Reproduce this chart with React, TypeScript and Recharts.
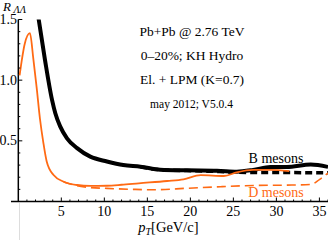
import { LineChart, Line, XAxis, YAxis, ReferenceLine } from 'recharts'

// values (pT in GeV/c, R_AA)
const bSolid = [
  { x: 2.0, y: 1.68 }, { x: 2.35, y: 1.51 }, { x: 3.1, y: 1.167 }, { x: 3.92, y: 0.837 },
  { x: 4.3, y: 0.727 }, { x: 4.88, y: 0.617 }, { x: 5.66, y: 0.52 }, { x: 6.83, y: 0.44 },
  { x: 8.37, y: 0.37 }, { x: 10.3, y: 0.33 }, { x: 12.2, y: 0.3 }, { x: 14.2, y: 0.287 },
  { x: 16.5, y: 0.262 }, { x: 19.6, y: 0.257 }, { x: 23.1, y: 0.254 }, { x: 25.4, y: 0.246 },
  { x: 27.3, y: 0.26 }, { x: 29.3, y: 0.285 }, { x: 31.2, y: 0.285 }, { x: 34.0, y: 0.305 },
  { x: 36.0, y: 0.285 },
]
const bDashed = [
  { x: 14.2, y: 0.287 }, { x: 16.5, y: 0.262 }, { x: 19.6, y: 0.255 }, { x: 22, y: 0.25 },
  { x: 25, y: 0.242 }, { x: 28, y: 0.238 }, { x: 32, y: 0.238 }, { x: 36, y: 0.236 },
]
const dSolid = [
  { x: 0.15, y: 1.04 }, { x: 0.75, y: 1.3 }, { x: 1.35, y: 1.387 }, { x: 1.74, y: 1.18 },
  { x: 2.13, y: 0.94 }, { x: 2.52, y: 0.68 }, { x: 2.9, y: 0.49 }, { x: 3.3, y: 0.33 },
  { x: 4.1, y: 0.218 }, { x: 5.27, y: 0.163 }, { x: 6.83, y: 0.136 }, { x: 8.37, y: 0.128 },
  { x: 10.3, y: 0.13 }, { x: 12.0, y: 0.138 }, { x: 14.0, y: 0.15 }, { x: 17.3, y: 0.169 },
  { x: 19.2, y: 0.183 }, { x: 21.2, y: 0.218 }, { x: 23.9, y: 0.21 }, { x: 25.4, y: 0.24 },
  { x: 27.3, y: 0.26 }, { x: 29.3, y: 0.26 }, { x: 31.5, y: 0.25 },
]
const dDashed = [
  { x: 5.27, y: 0.163 }, { x: 6.83, y: 0.13 }, { x: 8.4, y: 0.115 }, { x: 10.3, y: 0.108 },
  { x: 13.4, y: 0.1 }, { x: 15.7, y: 0.097 }, { x: 19.6, y: 0.109 }, { x: 23.5, y: 0.122 },
  { x: 27.4, y: 0.132 }, { x: 31.2, y: 0.135 }, { x: 34.0, y: 0.14 }, { x: 35.0, y: 0.18 },
  { x: 36.0, y: 0.235 },
]

const xTicks = Array.from({ length: 36 }, (_, i) => i + 1)
const yTicks = [0.1, 0.2, 0.3, 0.4, 0.5, 0.6, 0.7, 0.8, 0.9, 1.0, 1.1, 1.2, 1.3, 1.4, 1.5]
const infoLines = ['Pb+Pb @ 2.76 TeV', '0–20%; KH Hydro', 'El. + LPM (K=0.7)']
const versionLine = 'may 2012; V5.0.4'

const ORANGE = '#FF6A14'
const SERIF = '"Liberation Serif", "DejaVu Serif", serif'
const AXIS_Y = 201.5
const AXIS_X = 18.3

function XTick({ x, payload }: any) {
  const v = payload.value
  const major = v % 5 === 0
  return (
    <g>
      <line x1={x} x2={x} y1={AXIS_Y} y2={AXIS_Y - (major ? 4 : 2)} stroke="#000" strokeWidth={1} />
      {major && (
        <text x={x} y={215.5} textAnchor="middle" fontSize={14} fontFamily={SERIF} fill="#000">
          {v}
        </text>
      )}
    </g>
  )
}

function YTick({ y, payload }: any) {
  const v = payload.value
  const major = Math.abs(v * 2 - Math.round(v * 2)) < 1e-6
  return (
    <g>
      <line x1={AXIS_X} x2={AXIS_X + (major ? 4 : 2)} y1={y} y2={y} stroke="#000" strokeWidth={1} />
      {major && (
        <text x={17} y={y + 4.5} textAnchor="end" fontSize={14} fontFamily={SERIF} fill="#000">
          {v.toFixed(1)}
        </text>
      )}
    </g>
  )
}

export default function App() {
  return (
    <div style={{ position: 'absolute', left: 0, top: 0, width: 328, height: 240, background: '#fff' }}>
      <LineChart width={328} height={240} margin={{ top: 19.5, right: 0, left: 0, bottom: 0 }}>
        <XAxis
          type="number"
          dataKey="x"
          domain={[-0.85, 36]}
          allowDataOverflow
          ticks={xTicks}
          interval={0}
          height={38.5}
          tickLine={false}
          axisLine={{ stroke: '#000', strokeWidth: 1.5 }}
          tick={<XTick />}
        />
        <YAxis
          type="number"
          dataKey="y"
          domain={[0, 1.5]}
          allowDataOverflow
          ticks={yTicks}
          interval={0}
          width={11}
          tickLine={false}
          axisLine={false}
          tick={<YTick />}
        />
        <ReferenceLine x={0} stroke="#000" strokeWidth={1.5} />
        <Line data={bSolid} dataKey="y" type="monotone" stroke="#000" strokeWidth={4} dot={false} isAnimationActive={false} />
        <Line data={bDashed} dataKey="y" type="monotone" stroke="#000" strokeWidth={3.5} strokeDasharray="7 4" dot={false} isAnimationActive={false} />
        <Line data={dDashed} dataKey="y" type="monotone" stroke={ORANGE} strokeWidth={1.6} strokeDasharray="9 5" dot={false} isAnimationActive={false} />
        <Line data={dSolid} dataKey="y" type="monotone" stroke={ORANGE} strokeWidth={1.8} dot={false} isAnimationActive={false} />
      </LineChart>
      <svg width={328} height={240} style={{ position: 'absolute', left: 0, top: 0, pointerEvents: 'none' }}>
        <line x1={19.5} x2={19.5} y1={203} y2={240} stroke="#ddd" strokeWidth={1} />
        <text x={3} y={10.5} fontSize={13} fontStyle="italic" fontFamily={SERIF}>R</text>
        <text x={13.5} y={12.5} fontSize={10.5} fontStyle="italic" fontFamily={SERIF}>ΛΛ</text>
        {infoLines.map((t, i) => (
          <text key={t} x={192} y={[36, 59.5, 83.5][i]} textAnchor="middle" fontSize={13.5} fontFamily={SERIF}>{t}</text>
        ))}
        <text x={191.5} y={107.5} textAnchor="middle" fontSize={11.5} fontFamily={SERIF}>{versionLine}</text>
        <text x={276} y={163.3} textAnchor="middle" fontSize={14} fontFamily={SERIF}>B mesons</text>
        <text x={276} y={196.7} textAnchor="middle" fontSize={14} fontFamily={SERIF} fill={ORANGE}>D mesons</text>
        <text x={138.3} y={232} fontSize={14.5} fontFamily={SERIF}>
          <tspan fontStyle="italic">p</tspan>
          <tspan fontStyle="italic" fontSize={10} dy={3}>T</tspan>
          <tspan dy={-3}>[GeV/c]</tspan>
        </text>
      </svg>
    </div>
  )
}
